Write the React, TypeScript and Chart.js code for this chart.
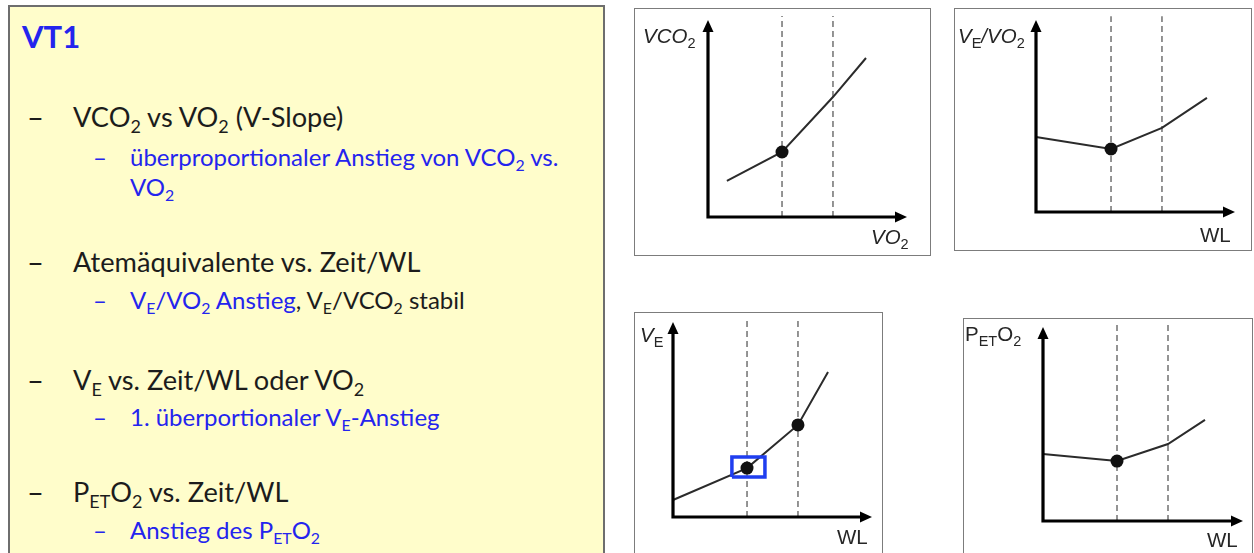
import React, { useEffect, useRef } from "react";
import { Chart, registerables } from "chart.js";

Chart.register(...registerables);

// ---------------- data (arbitrary 0..100 units on each mini chart) ----------------
const axisMax = 100;
const dashTop = 102;

// VCO2 vs VO2 (V-Slope)
const vslopeX = [9.5, 37.2, 62.8, 79.4];
const vslopeY = [18.3, 33.0, 60.9, 80.7];
const vslopeDotX = [37.2];
const vslopeDotY = [33.0];
const vslopeThresholds = [37.2, 62.8];

// VE/VO2 vs WL
const veVo2X = [0, 37.7, 63.3, 85.9];
const veVo2Y = [39.1, 32.8, 43.8, 59.4];
const veVo2DotX = [37.7];
const veVo2DotY = [32.8];
const veVo2Thresholds = [37.7, 63.3];

// VE vs WL
const veX = [0, 37.2, 62.8, 77.9];
const veY = [8.7, 25.1, 47.2, 74.4];
const veDotX = [37.2, 62.8];
const veDotY = [25.1, 47.2];
const veThresholds = [37.2, 62.8];
const veMarkX = [29.6, 46.2];
const veMarkY = [20.5, 30.8];

// PETO2 vs WL
const petO2X = [0, 37.0, 62.5, 81.0];
const petO2Y = [34.5, 30.9, 39.7, 52.1];
const petO2DotX = [37.0];
const petO2DotY = [30.9];
const petO2Thresholds = [37.0, 62.5];

// ---------------- helpers ----------------
type Seg = { t: string; sub?: boolean; it?: boolean };
type Label = { x: number; y: number; segs: Seg[] };

const zip = (xs: number[], ys: number[]) => xs.map((x, i) => ({ x, y: ys[i] }));

function drawRich(ctx: CanvasRenderingContext2D, x: number, y: number, segs: Seg[]) {
  let cx = x;
  for (const s of segs) {
    const size = s.sub ? 14.5 : 20.5;
    ctx.font = `${s.it ? "italic " : ""}${size}px "Liberation Sans", Arial, sans-serif`;
    ctx.fillText(s.t, cx, s.sub ? y + 5 : y);
    cx += ctx.measureText(s.t).width;
  }
}

type MiniProps = {
  box: { left: number; top: number; width: number; height: number };
  origin: { x: number; y: number };
  tip: { x: number; y: number };
  lineX: number[];
  lineY: number[];
  dotX: number[];
  dotY: number[];
  thresholds: number[];
  markX?: number[];
  markY?: number[];
  labels: Label[];
};

function MiniChart(p: MiniProps) {
  const ref = useRef<HTMLCanvasElement | null>(null);
  useEffect(() => {
    if (!ref.current) return;
    const { box, origin, tip } = p;
    const padding = {
      left: origin.x - box.left,
      top: tip.y - box.top,
      right: box.left + box.width - tip.x,
      bottom: box.top + box.height - origin.y,
    };
    const datasets: any[] = p.thresholds.map((t) => ({
      data: [
        { x: t, y: 0 },
        { x: t, y: dashTop },
      ],
      showLine: true,
      borderColor: "#7a7a7a",
      borderWidth: 1.6,
      borderDash: [6, 4],
      pointRadius: 0,
      clip: false,
      order: 5,
    }));
    datasets.push({
      data: zip(p.lineX, p.lineY),
      showLine: true,
      borderColor: "#2b2b2b",
      borderWidth: 2,
      pointRadius: 0,
      clip: false,
      order: 4,
    });
    datasets.push({
      data: zip(p.dotX, p.dotY),
      showLine: false,
      backgroundColor: "#111111",
      borderWidth: 0,
      pointRadius: 6.5,
      clip: false,
      order: 3,
    });
    if (p.markX && p.markY) {
      const [x0, x1] = p.markX;
      const [y0, y1] = p.markY;
      datasets.push({
        data: [
          { x: x0, y: y0 },
          { x: x1, y: y0 },
          { x: x1, y: y1 },
          { x: x0, y: y1 },
          { x: x0, y: y0 },
        ],
        showLine: true,
        borderColor: "#1f3ef0",
        borderWidth: 3.5,
        borderJoinStyle: "miter",
        pointRadius: 0,
        clip: false,
        order: 1,
      });
    }
    const overlay = {
      id: "axesAndLabels",
      afterDatasetsDraw(chart: any) {
        const { ctx, scales } = chart;
        const ox = scales.x.getPixelForValue(0);
        const oy = scales.y.getPixelForValue(0);
        const tx = scales.x.getPixelForValue(axisMax);
        const ty = scales.y.getPixelForValue(axisMax);
        ctx.save();
        ctx.strokeStyle = "#000";
        ctx.fillStyle = "#000";
        ctx.lineWidth = 3.2;
        ctx.lineJoin = "miter";
        ctx.beginPath();
        ctx.moveTo(ox, ty + 8);
        ctx.lineTo(ox, oy);
        ctx.lineTo(tx - 8, oy);
        ctx.stroke();
        ctx.beginPath();
        ctx.moveTo(tx, oy);
        ctx.lineTo(tx - 12, oy - 5.5);
        ctx.lineTo(tx - 12, oy + 5.5);
        ctx.closePath();
        ctx.fill();
        ctx.beginPath();
        ctx.moveTo(ox, ty);
        ctx.lineTo(ox - 5.5, ty + 12);
        ctx.lineTo(ox + 5.5, ty + 12);
        ctx.closePath();
        ctx.fill();
        ctx.fillStyle = "#262626";
        ctx.textBaseline = "alphabetic";
        for (const l of p.labels) drawRich(ctx, l.x - box.left, l.y - box.top, l.segs);
        ctx.restore();
      },
    };
    const chart = new Chart(ref.current, {
      type: "scatter",
      data: { datasets },
      options: {
        animation: false,
        responsive: false,
        events: [],
        layout: { padding },
        plugins: { legend: { display: false }, tooltip: { enabled: false } },
        scales: {
          x: { type: "linear", min: 0, max: axisMax, display: false },
          y: { type: "linear", min: 0, max: axisMax, display: false },
        },
      },
      plugins: [overlay],
    } as any);
    return () => chart.destroy();
  }, []);
  const { box } = p;
  return (
    <>
      <canvas
        ref={ref}
        width={box.width}
        height={box.height}
        style={{ position: "absolute", left: box.left, top: box.top, width: box.width, height: box.height }}
      />
      <div
        style={{
          position: "absolute",
          left: box.left,
          top: box.top,
          width: box.width,
          height: box.height,
          border: "1.6px solid #7c7c7c",
          boxSizing: "border-box",
          pointerEvents: "none",
        }}
      />
    </>
  );
}

// ---------------- text panel ----------------
const BLUE = "#2424ee";
const DARK = "#1c1c1c";
const FONT = 'Lato, "Open Sans", sans-serif';

const Sub = ({ children }: { children: React.ReactNode }) => (
  <span style={{ fontSize: "0.66em", position: "relative", top: "0.32em" }}>{children}</span>
);

function Line(props: { x: number; y: number; size: number; color: string; children: React.ReactNode }) {
  return (
    <div
      style={{
        position: "absolute",
        left: props.x,
        top: props.y - 16,
        height: 32,
        lineHeight: "32px",
        fontSize: props.size,
        color: props.color,
        fontFamily: FONT,
        whiteSpace: "nowrap",
      }}
    >
      {props.children}
    </div>
  );
}

const MAIN = 27.2;
const SUBL = 24;

export default function App() {
  return (
    <div style={{ position: "absolute", left: 0, top: 0, width: 1254, height: 553, overflow: "hidden", background: "#fff" }}>
      <div
        style={{
          position: "absolute",
          left: 8,
          top: 5,
          width: 597,
          height: 570,
          background: "#FFFDCB",
          border: "2px solid #6e6e6e",
          boxSizing: "border-box",
        }}
      />
      <Line x={22} y={36} size={31} color={BLUE}>
        <b>VT1</b>
      </Line>

      <Line x={27} y={117} size={MAIN + 2} color={DARK}>–</Line>
      <Line x={73} y={117} size={MAIN} color={DARK}>
        VCO<Sub>2</Sub> vs VO<Sub>2</Sub> (V-Slope)
      </Line>
      <Line x={93} y={157} size={SUBL} color={BLUE}>–</Line>
      <Line x={130} y={157} size={SUBL} color={BLUE}>
        überproportionaler Anstieg von VCO<Sub>2</Sub> vs.
      </Line>
      <Line x={130} y={187} size={SUBL} color={BLUE}>
        VO<Sub>2</Sub>
      </Line>

      <Line x={27} y={262} size={MAIN + 2} color={DARK}>–</Line>
      <Line x={73} y={262} size={MAIN} color={DARK}>
        Atemäquivalente vs. Zeit/WL
      </Line>
      <Line x={93} y={300} size={SUBL} color={BLUE}>–</Line>
      <Line x={130} y={300} size={SUBL} color={DARK}>
        <span style={{ color: BLUE }}>
          V<Sub>E</Sub>/VO<Sub>2</Sub> Anstieg
        </span>
        , V<Sub>E</Sub>/VCO<Sub>2</Sub> stabil
      </Line>

      <Line x={27} y={380} size={MAIN + 2} color={DARK}>–</Line>
      <Line x={73} y={380} size={MAIN} color={DARK}>
        V<Sub>E</Sub> vs. Zeit/WL oder VO<Sub>2</Sub>
      </Line>
      <Line x={93} y={417} size={SUBL} color={BLUE}>–</Line>
      <Line x={130} y={417} size={SUBL} color={BLUE}>
        1. überportionaler V<Sub>E</Sub>-Anstieg
      </Line>

      <Line x={27} y={492} size={MAIN + 2} color={DARK}>–</Line>
      <Line x={73} y={492} size={MAIN} color={DARK}>
        P<Sub>ET</Sub>O<Sub>2</Sub> vs. Zeit/WL
      </Line>
      <Line x={93} y={530} size={SUBL} color={BLUE}>–</Line>
      <Line x={130} y={530} size={SUBL} color={BLUE}>
        Anstieg des P<Sub>ET</Sub>O<Sub>2</Sub>
      </Line>

      <MiniChart
        box={{ left: 634, top: 8, width: 297, height: 248 }}
        origin={{ x: 708, y: 217 }}
        tip={{ x: 907, y: 20 }}
        lineX={vslopeX}
        lineY={vslopeY}
        dotX={vslopeDotX}
        dotY={vslopeDotY}
        thresholds={vslopeThresholds}
        labels={[
          { x: 643, y: 43, segs: [{ t: "VCO", it: true }, { t: "2", sub: true }] },
          { x: 871, y: 244, segs: [{ t: "VO", it: true }, { t: "2", sub: true }] },
        ]}
      />
      <MiniChart
        box={{ left: 954, top: 8, width: 298, height: 243 }}
        origin={{ x: 1036, y: 212 }}
        tip={{ x: 1235, y: 20 }}
        lineX={veVo2X}
        lineY={veVo2Y}
        dotX={veVo2DotX}
        dotY={veVo2DotY}
        thresholds={veVo2Thresholds}
        labels={[
          {
            x: 958,
            y: 43,
            segs: [
              { t: "V", it: true },
              { t: "E", sub: true },
              { t: "/VO", it: true },
              { t: "2", sub: true },
            ],
          },
          { x: 1200, y: 242, segs: [{ t: "WL" }] },
        ]}
      />
      <MiniChart
        box={{ left: 634, top: 312, width: 249, height: 260 }}
        origin={{ x: 673, y: 517 }}
        tip={{ x: 872, y: 322 }}
        lineX={veX}
        lineY={veY}
        dotX={veDotX}
        dotY={veDotY}
        thresholds={veThresholds}
        markX={veMarkX}
        markY={veMarkY}
        labels={[
          { x: 640, y: 342, segs: [{ t: "V", it: true }, { t: "E", sub: true }] },
          { x: 837, y: 544, segs: [{ t: "WL" }] },
        ]}
      />
      <MiniChart
        box={{ left: 963, top: 318, width: 290, height: 260 }}
        origin={{ x: 1043, y: 521 }}
        tip={{ x: 1243, y: 327 }}
        lineX={petO2X}
        lineY={petO2Y}
        dotX={petO2DotX}
        dotY={petO2DotY}
        thresholds={petO2Thresholds}
        labels={[
          {
            x: 965,
            y: 341,
            segs: [{ t: "P" }, { t: "ET", sub: true }, { t: "O" }, { t: "2", sub: true }],
          },
          { x: 1207, y: 547, segs: [{ t: "WL" }] },
        ]}
      />
    </div>
  );
}
